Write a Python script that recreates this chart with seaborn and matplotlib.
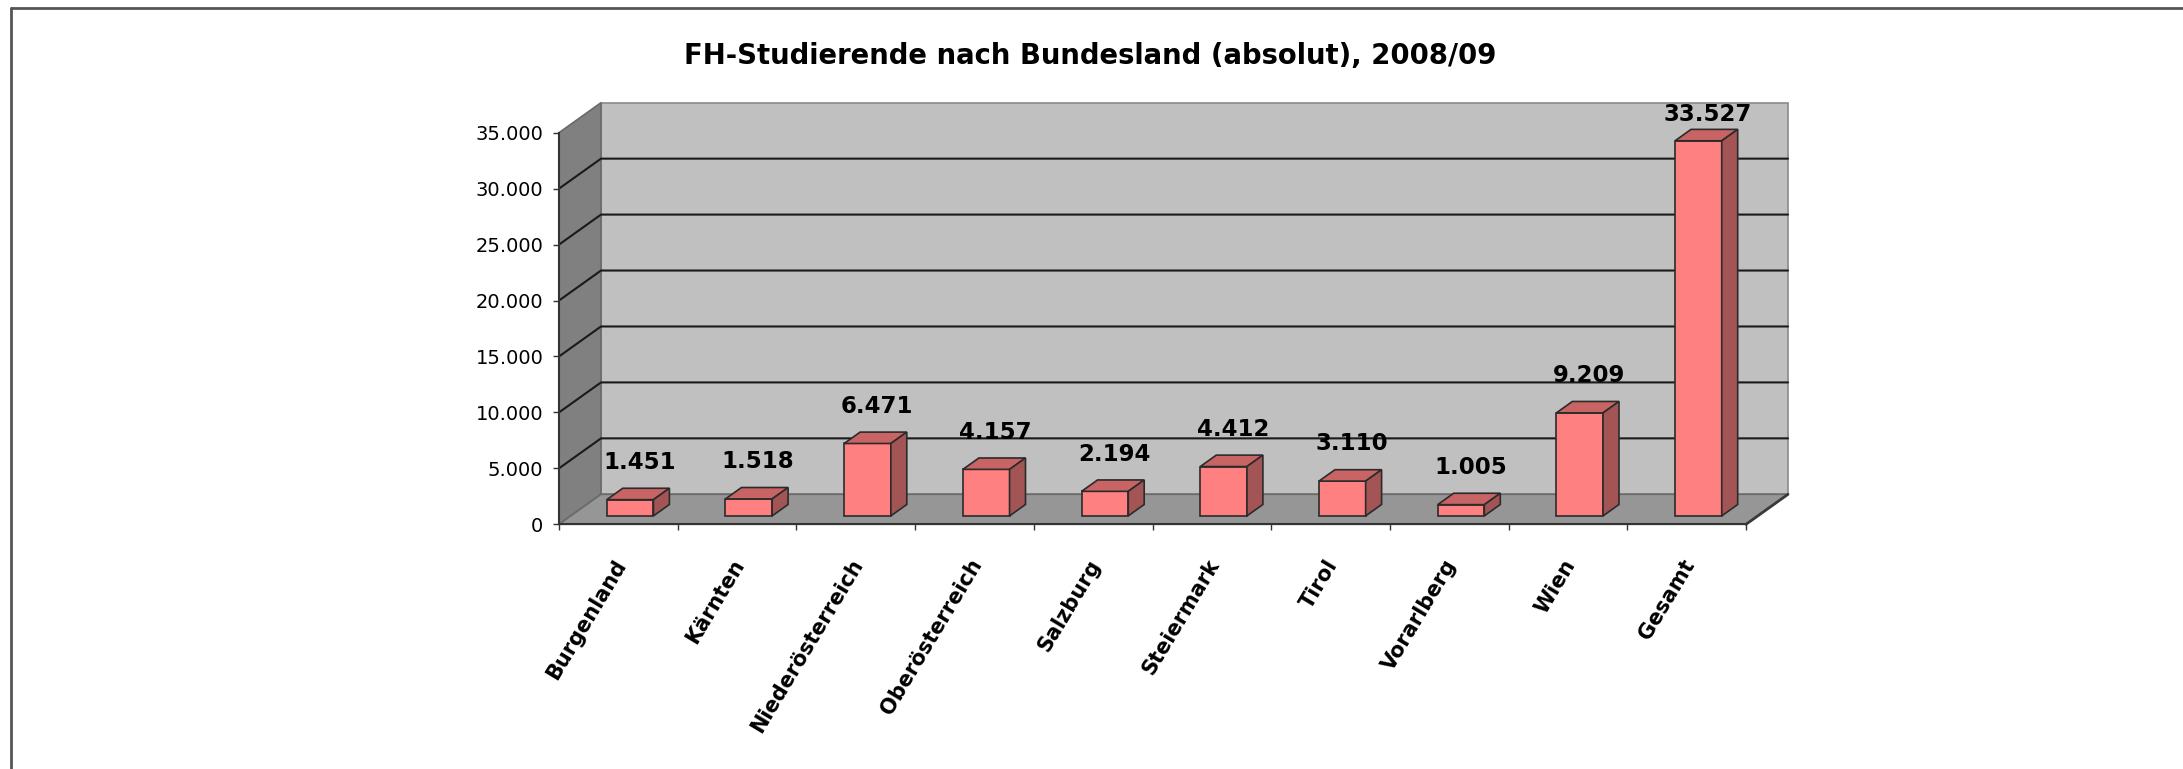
import matplotlib
matplotlib.use('Agg')
import matplotlib.pyplot as plt
import matplotlib.transforms as mtransforms
from matplotlib.patches import Polygon
from matplotlib.lines import Line2D
import seaborn as sns

# Data
laender = ['Burgenland', 'Kärnten', 'Niederösterreich', 'Oberösterreich', 'Salzburg',
           'Steiermark', 'Tirol', 'Vorarlberg', 'Wien', 'Gesamt']
studierende = [1451, 1518, 6471, 4157, 2194, 4412, 3110, 1005, 9209, 33527]
y_ticks = [0, 5000, 10000, 15000, 20000, 25000, 30000, 35000]
title = 'FH-Studierende nach Bundesland (absolut), 2008/09'

sns.set_style('white')
plt.rcParams['font.family'] = ['DejaVu Sans']
plt.rcParams['text.color'] = 'black'
plt.rcParams['xtick.color'] = 'black'
plt.rcParams['ytick.color'] = 'black'

W, H, DPI = 2183, 769, 100
fig = plt.figure(figsize=(W / DPI, H / DPI), dpi=DPI, facecolor='white')

# front plane of the 3D box, in pixels
left_px, right_px, zero_px, top_px = 559, 1746, 524.3, 132.7
ax = fig.add_axes([left_px / W, (H - zero_px) / H, (right_px - left_px) / W, (zero_px - top_px) / H])
ax.patch.set_alpha(0)

ymax = 35000
ax.set_xlim(-0.5, 9.5)
ax.set_ylim(0, ymax)

# pixel -> data conversions
px_x = (right_px - left_px) / 10
px_y = (zero_px - top_px) / ymax
Dx, Dy = 42 / px_x, 30 / px_y          # depth of the walls
f0, fd = 0.28, 0.38                    # bar front position / bar depth

wall_c, side_c, floor_c = '#C0C0C0', '#808080', '#969696'
x0, x1 = -0.5, 9.5

# back wall, left wall, floor
ax.add_patch(Polygon([(x0 + Dx, Dy), (x1 + Dx, Dy), (x1 + Dx, ymax + Dy), (x0 + Dx, ymax + Dy)],
                     closed=True, fc=wall_c, ec='#8a8a8a', lw=1.2, clip_on=False, zorder=0.5))
ax.add_patch(Polygon([(x0, 0), (x0, ymax), (x0 + Dx, ymax + Dy), (x0 + Dx, Dy)],
                     closed=True, fc=side_c, ec='#6a6a6a', lw=1.2, clip_on=False, zorder=0.6))
ax.add_patch(Polygon([(x0, 0), (x1, 0), (x1 + Dx, Dy), (x0 + Dx, Dy)],
                     closed=True, fc=floor_c, ec='#6a6a6a', lw=1.2, clip_on=False, zorder=0.6))
for t in y_ticks[1:-1]:
    ax.plot([x0, x0 + Dx, x1 + Dx], [t, t + Dy, t + Dy], color='#1a1a1a', lw=1.5,
            clip_on=False, zorder=0.7)
ax.plot([x1, x1 + Dx], [0, Dy], color='#3a3a3a', lw=2, clip_on=False, zorder=0.8)

# bars
sns.barplot(x=laender, y=studierende, color='#FF8080', saturation=1, width=0.393,
            edgecolor='#2B2B2B', linewidth=1.2, ax=ax, zorder=3)

top_c, right_c = '#C86464', '#A35454'
bx, by = fd * Dx, fd * Dy
bars = [p for p in ax.patches if p.get_zorder() == 3]
for p, v in zip(bars, studierende):
    p.set_x(p.get_x() + f0 * Dx)
    p.set_y(f0 * Dy)
    p.set_clip_on(False)
    xa, w, ya, h = p.get_x(), p.get_width(), p.get_y(), p.get_height()
    ax.add_patch(Polygon([(xa, ya + h), (xa + w, ya + h), (xa + w + bx, ya + h + by), (xa + bx, ya + h + by)],
                         closed=True, fc=top_c, ec='#2B2B2B', lw=1.2, clip_on=False, zorder=3))
    ax.add_patch(Polygon([(xa + w, ya), (xa + w, ya + h), (xa + w + bx, ya + h + by), (xa + w + bx, ya + by)],
                         closed=True, fc=right_c, ec='#2B2B2B', lw=1.2, clip_on=False, zorder=3))
    ax.annotate(f'{v:,}'.replace(',', '.'), xy=(xa + w / 2, ya + min(h, 32500)),
                xytext=(9.3, 37.3), textcoords='offset pixels', ha='center', va='center',
                fontsize=16.5, fontweight='bold', color='black', annotation_clip=False, zorder=5)

# axes
for s in ['top', 'right']:
    ax.spines[s].set_visible(False)
for s in ['left', 'bottom']:
    ax.spines[s].set_color('#333333')
    ax.spines[s].set_linewidth(1.5)
    ax.spines[s].set_zorder(4)

ax.set_yticks(y_ticks)
ax.set_yticklabels([f'{t:,}'.replace(',', '.') for t in y_ticks])
ax.tick_params(axis='y', left=True, direction='out', length=4.3, width=1, color='#333333',
               pad=7, labelsize=14)

ax.set_xticks(range(len(laender)))
ax.set_xticks([i - 0.5 for i in range(len(laender) + 1)], minor=True)
ax.set_xticklabels(laender, rotation=59, ha='right', va='center', rotation_mode='anchor',
                   fontsize=15, fontweight='bold')
ax.tick_params(axis='x', which='major', bottom=True, length=0, pad=26.4)
ax.tick_params(axis='x', which='minor', bottom=True, direction='out', length=4.3, width=1,
               color='#333333')
ax.set_xlabel('')
ax.set_ylabel('')
shift = mtransforms.ScaledTranslation(3 / DPI, 0, fig.dpi_scale_trans)
for lab in ax.get_xticklabels():
    lab.set_transform(lab.get_transform() + shift)

fig.text(1090.5 / W, 1 - 56 / H, title, ha='center', va='center', fontsize=19.8, fontweight='bold')

# chart border
fig.add_artist(Line2D([11 / W, 11 / W], [0, 1 - 8 / H], color='#555555', lw=2))
fig.add_artist(Line2D([11 / W, 1], [1 - 8 / H, 1 - 8 / H], color='#555555', lw=2))

fig.savefig('out.png', dpi=DPI, facecolor='white')
